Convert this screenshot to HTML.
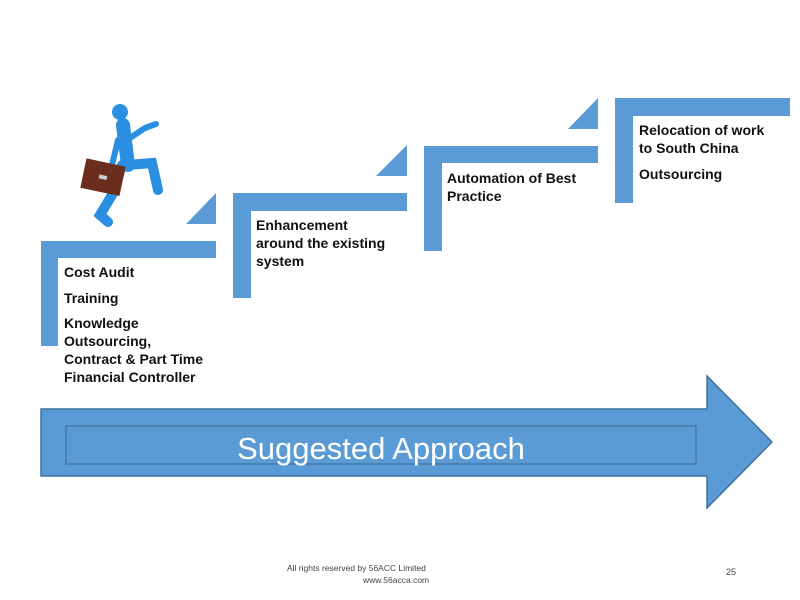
<!DOCTYPE html>
<html><head><meta charset="utf-8"><style>
body{margin:0;width:800px;height:600px;background:#fff;overflow:hidden;position:relative;font-family:"Liberation Sans",sans-serif}
.t{position:absolute;font-weight:bold;font-size:14px;color:#111;line-height:18px}
</style></head><body>
<svg width="800" height="600" style="position:absolute;left:0;top:0">
<g fill="#5b9bd5">
<rect x="41" y="241" width="175" height="17"/><rect x="41" y="241" width="17" height="105"/>
<polygon points="186,224 216,224 216,193"/>
<rect x="233" y="193" width="174" height="18"/><rect x="233" y="193" width="18" height="105"/>
<polygon points="376,176 407,176 407,145"/>
<rect x="424" y="146" width="174" height="17"/><rect x="424" y="146" width="18" height="105"/>
<polygon points="568,129 598,129 598,98"/>
<rect x="615" y="98" width="175" height="18"/><rect x="615" y="98" width="18" height="105"/>
</g>
<polygon points="41,409 707,409 707,376 772,442 707,508 707,476 41,476" fill="#5b9bd5" stroke="#41719c" stroke-width="1.5"/>
<rect x="66" y="426" width="630" height="38" fill="none" stroke="#41719c" stroke-width="1.2"/>
<text x="381" y="459" text-anchor="middle" font-family="Liberation Sans, sans-serif" font-size="31" fill="#fff">Suggested Approach</text>
<g stroke="#2a8fe0" stroke-linecap="round" fill="none">
<line x1="123" y1="125" x2="128" y2="165" stroke-width="14"/>
<polyline points="130,138 145,128 156,124" stroke-width="6"/>
<polyline points="128,165 152,163 158,190" stroke-width="10"/>
<polyline points="122,165 112,195 100,215 108,222" stroke-width="10"/>
<line x1="118" y1="140" x2="112" y2="165" stroke-width="6"/>
</g>
<circle cx="120" cy="112" r="8" fill="#2a8fe0"/>
<g transform="rotate(12 102 177)"><rect x="83" y="162" width="40" height="30" fill="#6b2e1c"/><rect x="99" y="175" width="8" height="4" fill="#ccc"/></g>
</svg>
<div class="t" style="left:64px;top:263px">Cost Audit</div>
<div class="t" style="left:64px;top:289px">Training</div>
<div class="t" style="left:64px;top:314px">Knowledge<br>Outsourcing,<br>Contract &amp; Part Time<br>Financial Controller</div>
<div class="t" style="left:256px;top:216px">Enhancement<br>around the existing<br>system</div>
<div class="t" style="left:447px;top:169px">Automation of Best<br>Practice</div>
<div class="t" style="left:639px;top:121px">Relocation of work<br>to South China</div>
<div class="t" style="left:639px;top:165px">Outsourcing</div>
<div style="position:absolute;left:287px;top:562px;font-size:8.5px;color:#444;line-height:12px">All rights reserved by 56ACC Limited<br><span style="padding-left:76px">www.56acca.com</span></div>
<div style="position:absolute;left:726px;top:567px;font-size:9px;color:#444">25</div>
</body></html>
